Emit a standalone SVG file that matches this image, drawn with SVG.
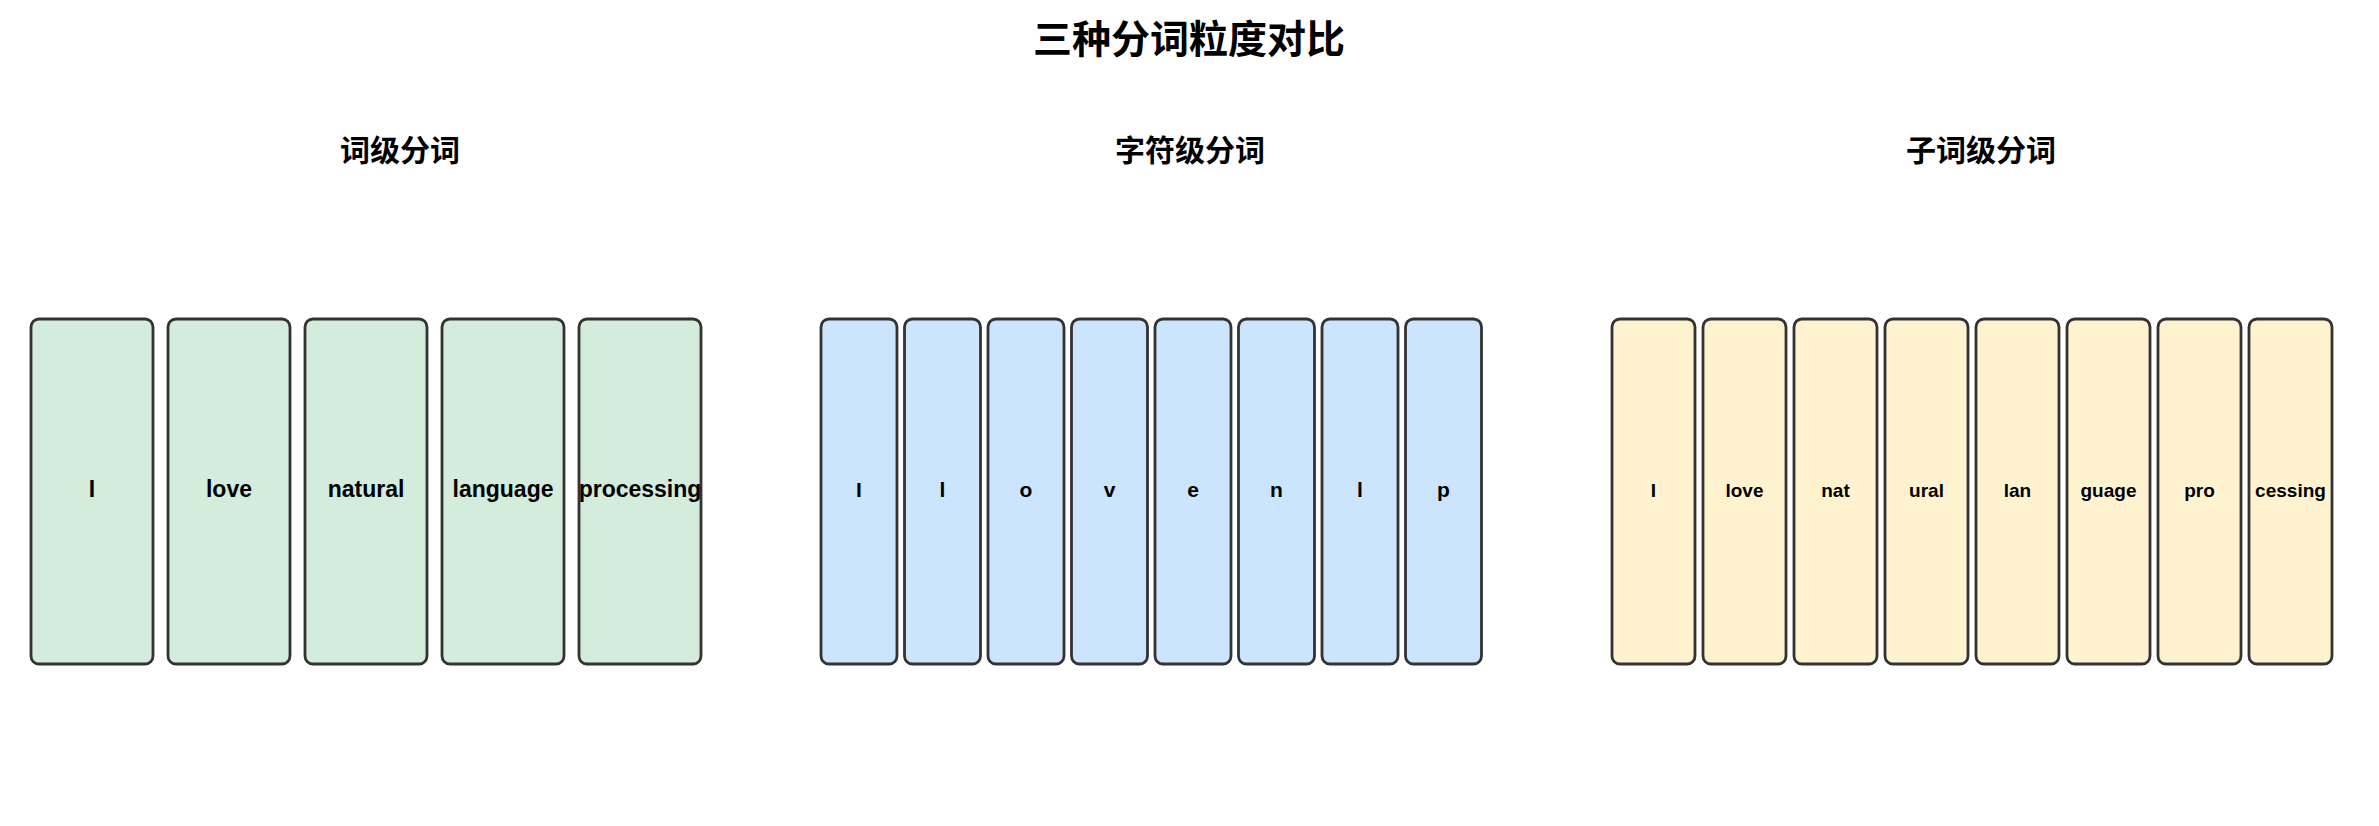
<svg xmlns="http://www.w3.org/2000/svg" width="2379" height="826" viewBox="0 0 2379 826">
<style>
.title{font-family:"Noto Sans CJK SC","Noto Sans",sans-serif;font-weight:bold;font-size:39px;fill:#000;text-anchor:middle}
.sub{font-family:"Noto Sans CJK SC","Noto Sans",sans-serif;font-weight:bold;font-size:30px;fill:#000;text-anchor:middle}
.box{stroke:#333;stroke-width:2.8}
.g{fill:#d4ecdb}
.b{fill:#cce5fe}
.y{fill:#fff3cf}
.lbl{font-family:"Liberation Sans",Arial,sans-serif;font-weight:bold;fill:#000;text-anchor:middle}
.lg{font-size:23px}
.lb{font-size:21px}
.ly{font-size:19px}
</style>
<rect width="2379" height="826" fill="#fff"/>
<text class="title" x="1189" y="53">三种分词粒度对比</text>
<text class="sub" x="400" y="161">词级分词</text>
<text class="sub" x="1190" y="161">字符级分词</text>
<text class="sub" x="1981" y="161">子词级分词</text>
<g id="connectors"/>
<g id="word">
<g id="w1"><rect class="box g" x="31" y="319" width="122" height="345" rx="8"/><text class="lbl lg" x="92" y="497">I</text></g>
<g id="w2"><rect class="box g" x="168" y="319" width="122" height="345" rx="8"/><text class="lbl lg" x="229" y="497">love</text></g>
<g id="w3"><rect class="box g" x="305" y="319" width="122" height="345" rx="8"/><text class="lbl lg" x="366" y="497">natural</text></g>
<g id="w4"><rect class="box g" x="442" y="319" width="122" height="345" rx="8"/><text class="lbl lg" x="503" y="497">language</text></g>
<g id="w5"><rect class="box g" x="579" y="319" width="122" height="345" rx="8"/><text class="lbl lg" x="640" y="497">processing</text></g>
</g>
<g id="char">
<g id="c1"><rect class="box b" x="821" y="319" width="76" height="345" rx="8"/><text class="lbl lb" x="859" y="497">I</text></g>
<g id="c2"><rect class="box b" x="904.5" y="319" width="76" height="345" rx="8"/><text class="lbl lb" x="942.5" y="497">l</text></g>
<g id="c3"><rect class="box b" x="988" y="319" width="76" height="345" rx="8"/><text class="lbl lb" x="1026" y="497">o</text></g>
<g id="c4"><rect class="box b" x="1071.5" y="319" width="76" height="345" rx="8"/><text class="lbl lb" x="1109.5" y="497">v</text></g>
<g id="c5"><rect class="box b" x="1155" y="319" width="76" height="345" rx="8"/><text class="lbl lb" x="1193" y="497">e</text></g>
<g id="c6"><rect class="box b" x="1238.5" y="319" width="76" height="345" rx="8"/><text class="lbl lb" x="1276.5" y="497">n</text></g>
<g id="c7"><rect class="box b" x="1322" y="319" width="76" height="345" rx="8"/><text class="lbl lb" x="1360" y="497">l</text></g>
<g id="c8"><rect class="box b" x="1405.5" y="319" width="76" height="345" rx="8"/><text class="lbl lb" x="1443.5" y="497">p</text></g>
</g>
<g id="subword">
<g id="s1"><rect class="box y" x="1612" y="319" width="83" height="345" rx="8"/><text class="lbl ly" x="1653.5" y="497">I</text></g>
<g id="s2"><rect class="box y" x="1703" y="319" width="83" height="345" rx="8"/><text class="lbl ly" x="1744.5" y="497">love</text></g>
<g id="s3"><rect class="box y" x="1794" y="319" width="83" height="345" rx="8"/><text class="lbl ly" x="1835.5" y="497">nat</text></g>
<g id="s4"><rect class="box y" x="1885" y="319" width="83" height="345" rx="8"/><text class="lbl ly" x="1926.5" y="497">ural</text></g>
<g id="s5"><rect class="box y" x="1976" y="319" width="83" height="345" rx="8"/><text class="lbl ly" x="2017.5" y="497">lan</text></g>
<g id="s6"><rect class="box y" x="2067" y="319" width="83" height="345" rx="8"/><text class="lbl ly" x="2108.5" y="497">guage</text></g>
<g id="s7"><rect class="box y" x="2158" y="319" width="83" height="345" rx="8"/><text class="lbl ly" x="2199.5" y="497">pro</text></g>
<g id="s8"><rect class="box y" x="2249" y="319" width="83" height="345" rx="8"/><text class="lbl ly" x="2290.5" y="497">cessing</text></g>
</g>
</svg>
